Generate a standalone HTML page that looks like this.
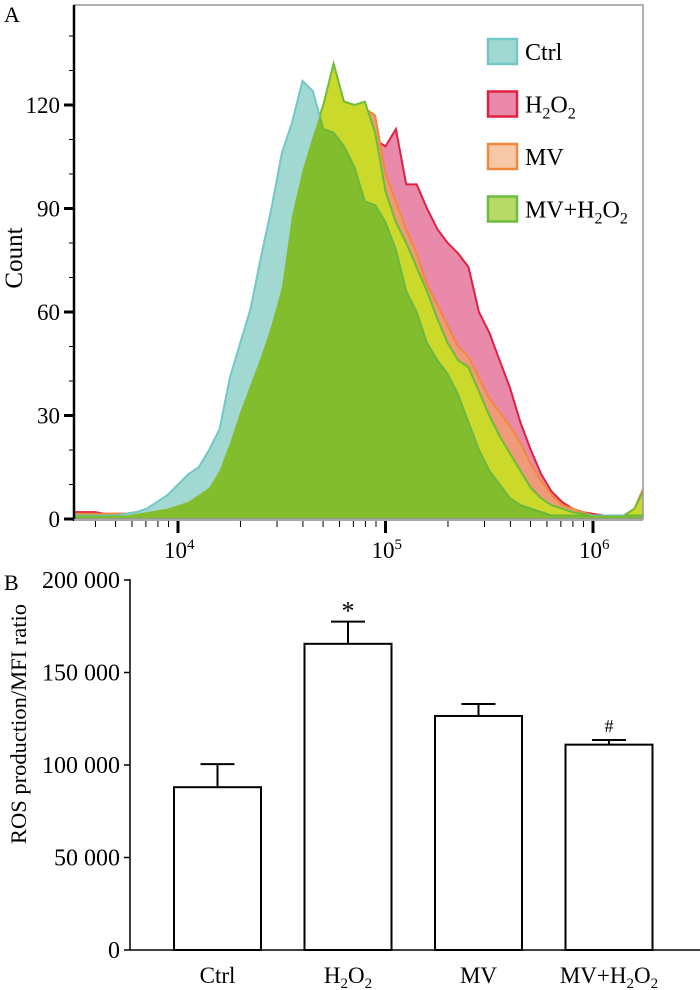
<!DOCTYPE html>
<html><head><meta charset="utf-8">
<style>
html,body{margin:0;padding:0;background:#fff;}
svg{display:block;font-family:"Liberation Serif",serif;}
</style></head>
<body>
<svg id="fig" width="700" height="990" viewBox="0 0 700 990">
<text x="4" y="22" font-size="22">A</text>
<text x="4" y="590" font-size="22">B</text>
<g id="pa"></g>
<g id="pb"></g>
</svg>
<script>
// ---------- Panel A data ----------
const logStart = 3.5, logStep = 0.05;
const ctrlCounts = [1,1,1,1,1,1.5,2,3,5,7,10,13,15,20,26,41,51,61,76,90,106,115,127,124,113,112,108,102,92,91,86,78,66,60,51,46,42,36,28,20,14,10,6,4,3,2,1,1,1,1,1,1,1,1,1,1];
const h2o2Counts = [2,2,2,1.5,1.5,1.5,2,2,2.5,3,4,5,7,9,13,20,29,37,45,54,64,85,98,108,116,119,120,119,117,110,108,113,97,97,90,84,80,77,73,60,54,46,38,28,20,13,8,5,3,2,1.5,1,1,1,1,1];
const mvCounts = [1.5,1.5,1.5,1.5,1.5,1.5,2,2,2.5,3,4,5,7,9,13,20,29,37,45,54,64,85,98,108,116,119,121,120,119,117,100,92,84,77,68,62,56,50,47,41,35,31,27,22,16,11,7,4,3,2,1,1,1,1,3,10];
const mvh2o2Counts = [1,1,1,1,1,1,1.5,2,2.5,3,4,5,7,9,14,22,31,39,47,56,67,88,101,111,120,132,121,120,121,112,95,86,80,73,66,58,51,46,44,37,30,24,19,14,9,6,4,3,2,1.5,1,1,1,1,3,9];
const countTicks = [0,30,60,90,120];
const decadeTicks = [4,5,6];

// ---------- Panel B data ----------
const groups = ["Ctrl","H2O2","MV","MV+H2O2"];
const means = [88000,165500,126500,111000];
const errs = [12500,12000,6500,2500];
const marks = ["","*","","#"];
const valueTicks = [0,50000,100000,150000,200000];
const valueTickLabels = ["0","50 000","100 000","150 000","200 000"];

const NS="http://www.w3.org/2000/svg";
function mk(parent,tag,attrs){const e=document.createElementNS(NS,tag);for(const k in attrs)e.setAttribute(k,attrs[k]);parent.appendChild(e);return e;}
function subText(t,str,subSize,shift){
  let sub=false;
  str.split(/(2)/).forEach(p=>{if(!p)return;const s=mk(t,'tspan',p==='2'?{'font-size':subSize,dy:shift}:{dy:sub?-shift:0});sub=(p==='2');s.textContent=p;});
}

// ---------- Panel A ----------
const pa=document.getElementById('pa');
const AX0=74,AX1=643,AY0=5,AYB=519;
const xA=l=>178+(l-4)*207.5;
const yA=c=>AYB-c*103.5/30;
const defs=mk(pa,'defs',{});
const cp=mk(defs,'clipPath',{id:'plotclip'});
mk(cp,'rect',{x:AX0,y:AY0,width:AX1-AX0,height:AYB-AY0});
function areaD(arr){
  let d='M'+xA(logStart).toFixed(1)+','+yA(0);
  arr.forEach((c,i)=>{d+=' L'+xA(logStart+i*logStep).toFixed(1)+','+yA(c).toFixed(1);});
  d+=' L'+xA(logStart+(arr.length-1)*logStep).toFixed(1)+','+yA(0)+' Z';
  return d;
}
const cp2=mk(defs,'clipPath',{id:'greenclip'});
mk(cp2,'path',{d:areaD(mvh2o2Counts)});
const plotG=mk(pa,'g',{'clip-path':'url(#plotclip)'});


let e;
e=mk(plotG,'path',{d:areaD(h2o2Counts),fill:'#ea8aab',stroke:'#e2203f','stroke-width':2});

e=mk(plotG,'path',{d:areaD(mvCounts),fill:'#ef9a78',stroke:'#f08a3a','stroke-width':2});

e=mk(plotG,'path',{d:areaD(mvh2o2Counts),fill:'#cbd92a',stroke:'#6cbd3c','stroke-width':2});

e=mk(plotG,'path',{d:areaD(ctrlCounts),fill:'#a2d8d2',stroke:'#72c8c6','stroke-width':2});

e=mk(plotG,'path',{d:areaD(ctrlCounts),fill:'#82bd2e',stroke:'#6cb83a','stroke-width':2,'clip-path':'url(#greenclip)'});

e=mk(pa,'rect',{x:AX0,y:AY0,width:AX1-AX0,height:AYB-AY0,fill:'none',stroke:'#999','stroke-width':1.5});

e=mk(pa,'line',{x1:AX0,y1:AY0,x2:AX0,y2:AYB+2,stroke:'#000','stroke-width':2.5});

e=mk(pa,'line',{x1:AX0,y1:AYB+1,x2:AX1,y2:AYB+1,stroke:'#aaa','stroke-width':2});

for(let c=10;c<=140;c+=10){
  e=mk(pa,'line',{x1:AX0-5,y1:yA(c),x2:AX0,y2:yA(c),stroke:'#000','stroke-width':1});
  
}
countTicks.forEach(c=>{
  e=mk(pa,'line',{x1:AX0-10,y1:yA(c),x2:AX0,y2:yA(c),stroke:'#000','stroke-width':3});
  
  const t=mk(pa,'text',{x:AX0-14,y:yA(c)+8,'font-size':23,'text-anchor':'end'});
  t.textContent=c;
  
});
for(let d=3;d<=6;d++){for(let m=1;m<=9;m++){
  const l=d+Math.log10(m); const x=xA(l);
  if(x<AX0||x>AX1)continue;
  e=mk(pa,'line',{x1:x,y1:AYB+2,x2:x,y2:AYB+(m==1?14:8),stroke:'#000','stroke-width':m==1?3:1});
  
}}
decadeTicks.forEach(d=>{
  const t=mk(pa,'text',{x:xA(d)-14,y:558,'font-size':23});
  t.textContent='10';
  const s=mk(t,'tspan',{dy:-9,'font-size':15});s.textContent=d;
  
});
e=mk(pa,'text',{x:0,y:0,'font-size':25,'text-anchor':'middle',transform:'translate(22,258) rotate(-90)'});
e.textContent='Count';

const leg=[["Ctrl","#a2d8d2","#72c8c6"],["H2O2","#ea8aab","#e2203f"],["MV","#f7c8a8","#f08a3a"],["MV+H2O2","#b8d868","#6cbd3c"]];
leg.forEach((L,i)=>{
  const y=51+i*52.5;
  const r=mk(pa,'rect',{x:488,y:y-12,width:29,height:25,fill:L[1],stroke:L[2],'stroke-width':2.5});
  
  const t=mk(pa,'text',{x:525,y:y+9,'font-size':24});
  
  subText(t,L[0],16,6);
});

// ---------- Panel B ----------
const pb=document.getElementById('pb');
const BX0=130,BX1=700,BYB=950;
const yB=v=>BYB-v*(370/200000);
const bandStart=174, bandStep=130.5, barW=87;
e=mk(pb,'line',{x1:BX0,y1:yB(200000)-1,x2:BX0,y2:BYB,stroke:'#000','stroke-width':1.5});

e=mk(pb,'line',{x1:BX0,y1:BYB,x2:BX1,y2:BYB,stroke:'#000','stroke-width':1.5});

valueTicks.forEach((v,i)=>{
  e=mk(pb,'line',{x1:BX0-6,y1:yB(v),x2:BX0,y2:yB(v),stroke:'#000','stroke-width':1.5});
  
  const t=mk(pb,'text',{x:BX0-10,y:yB(v)+8,'font-size':24,'text-anchor':'end'});
  t.textContent=valueTickLabels[i];
  
});
e=mk(pb,'text',{x:0,y:0,'font-size':22.5,'text-anchor':'middle',transform:'translate(26,724) rotate(-90)'});
e.textContent='ROS production/MFI ratio';

groups.forEach((g,i)=>{
  const x=bandStart+i*bandStep, cx=x+barW/2;
  const top=yB(means[i]), et=yB(means[i]+errs[i]);
  let el=mk(pb,'line',{x1:cx,y1:top,x2:cx,y2:et,stroke:'#000','stroke-width':2});
  
  el=mk(pb,'line',{x1:cx-17,y1:et,x2:cx+17,y2:et,stroke:'#000','stroke-width':2});
  
  el=mk(pb,'rect',{x:x,y:top,width:barW,height:BYB-top,fill:'#fff',stroke:'#000','stroke-width':2});
  
  if(marks[i]){
    el=mk(pb,'text',{x:cx,y:et-(marks[i]==='*'?2:8),'font-size':marks[i]==='*'?26:18,'text-anchor':'middle'});
    el.textContent=marks[i];
    
  }
  const t=mk(pb,'text',{x:cx,y:983,'font-size':23,'text-anchor':'middle'});
  
  subText(t,g,15,5);
});
</script>
</body></html>
